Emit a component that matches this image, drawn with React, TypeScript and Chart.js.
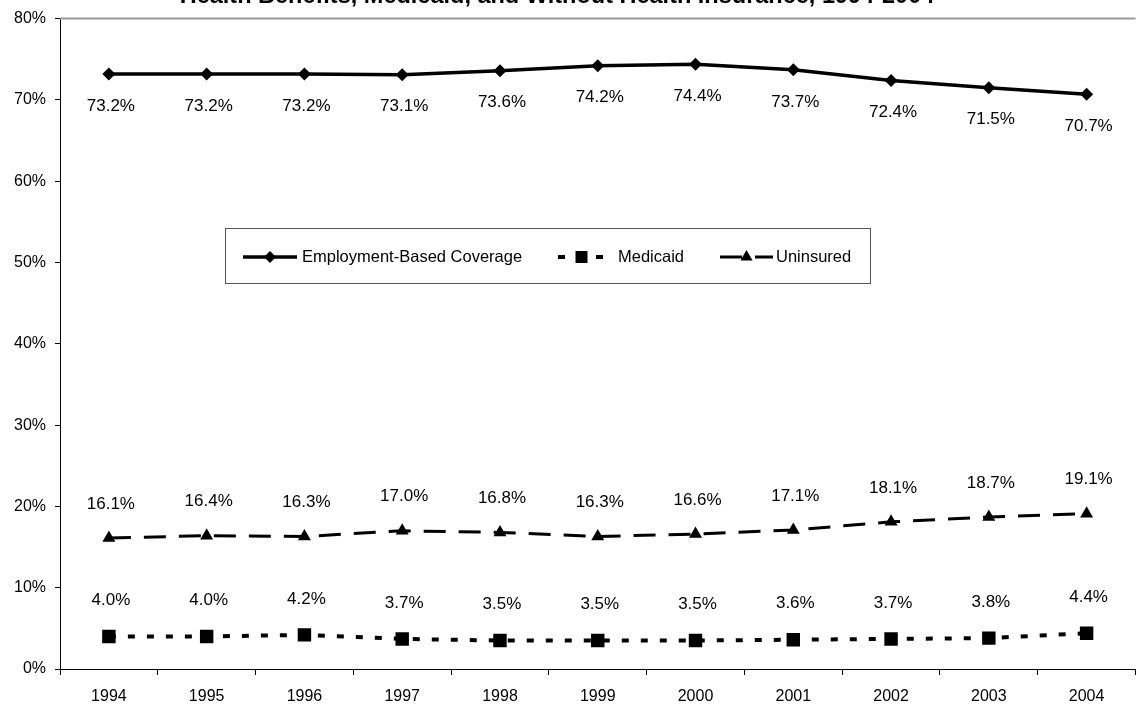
import React, { useEffect, useRef } from "react";
import { Chart, registerables } from "chart.js";

Chart.register(...registerables);

const years = ["1994", "1995", "1996", "1997", "1998", "1999", "2000", "2001", "2002", "2003", "2004"];
const employmentBased = [73.2, 73.2, 73.2, 73.1, 73.6, 74.2, 74.4, 73.7, 72.4, 71.5, 70.7];
const medicaid = [4.0, 4.0, 4.2, 3.7, 3.5, 3.5, 3.5, 3.6, 3.7, 3.8, 4.4];
const uninsured = [16.1, 16.4, 16.3, 17.0, 16.8, 16.3, 16.6, 17.1, 18.1, 18.7, 19.1];
const seriesNames = ["Employment-Based Coverage", "Medicaid", "Uninsured"];
const titleText = "Health Benefits, Medicaid, and Without Health Insurance, 1994-2004";

const FONT = "'Liberation Sans', Arial, sans-serif";
const labelOffsets = [32, -36, -34];

const overlayPlugin = {
  id: "overlay",
  afterDatasetsDraw(chart: any) {
    const ctx = chart.ctx;
    const area = chart.chartArea;
    ctx.save();
    // top plot border
    ctx.strokeStyle = "#999999";
    ctx.lineWidth = 2;
    ctx.beginPath();
    ctx.moveTo(area.left, area.top);
    ctx.lineTo(area.right, area.top);
    ctx.stroke();

    // data labels
    ctx.fillStyle = "#000";
    ctx.font = `17px ${FONT}`;
    ctx.textAlign = "center";
    ctx.textBaseline = "middle";
    chart.data.datasets.forEach((ds: any, di: number) => {
      const meta = chart.getDatasetMeta(di);
      meta.data.forEach((pt: any, i: number) => {
        ctx.fillText(ds.data[i].toFixed(1) + "%", pt.x + 2, pt.y + labelOffsets[di]);
      });
    });

    // title (partly cut at top)
    ctx.font = `bold 23.5px ${FONT}`;
    ctx.textBaseline = "alphabetic";
    ctx.fillText(titleText, 557, 3);

    // legend box
    const bx = 225, by = 228, bw = 645, bh = 55;
    ctx.fillStyle = "#fff";
    ctx.fillRect(bx, by, bw, bh);
    ctx.strokeStyle = "#555";
    ctx.lineWidth = 1;
    ctx.strokeRect(bx + 0.5, by + 0.5, bw, bh);
    const cy = 257;
    const items = [
      { x0: 243, x1: 297, tx: 302, di: 0 },
      { x0: 558, x1: 605, tx: 618, di: 1 },
      { x0: 720, x1: 773, tx: 776, di: 2 },
    ];
    items.forEach((it) => {
      const ds: any = chart.data.datasets[it.di];
      ctx.save();
      ctx.strokeStyle = "#000";
      ctx.lineWidth = ds.borderWidth;
      ctx.setLineDash(ds.borderDash || []);
      ctx.beginPath();
      ctx.moveTo(it.x0, cy);
      ctx.lineTo(it.x1, cy);
      ctx.stroke();
      ctx.restore();
      const mx = (it.x0 + it.x1) / 2;
      ctx.fillStyle = "#000";
      ctx.beginPath();
      if (it.di === 0) {
        const r = 6;
        ctx.moveTo(mx, cy - r);
        ctx.lineTo(mx + r, cy);
        ctx.lineTo(mx, cy + r);
        ctx.lineTo(mx - r, cy);
      } else if (it.di === 1) {
        ctx.rect(mx - 6, cy - 6, 12, 12);
      } else {
        const r = 7;
        ctx.moveTo(mx, cy - r);
        ctx.lineTo(mx + r * 0.866, cy + r * 0.5);
        ctx.lineTo(mx - r * 0.866, cy + r * 0.5);
      }
      ctx.closePath();
      ctx.fill();
      ctx.fillStyle = "#000";
      ctx.font = `16.5px ${FONT}`;
      ctx.textAlign = "left";
      ctx.textBaseline = "middle";
      ctx.fillText(seriesNames[it.di], it.tx, cy);
    });
    ctx.restore();
  },
};

export default function App() {
  const ref = useRef<HTMLCanvasElement | null>(null);
  useEffect(() => {
    if (!ref.current) return;
    const chart = new Chart(ref.current, {
      type: "line",
      data: {
        labels: years,
        datasets: [
          {
            label: seriesNames[0],
            data: employmentBased,
            borderColor: "#000",
            backgroundColor: "#000",
            borderWidth: 3.5,
            pointStyle: "rectRot",
            pointRadius: 6.5,
            pointBorderWidth: 0,
            tension: 0,
          },
          {
            label: seriesNames[1],
            data: medicaid,
            borderColor: "#000",
            backgroundColor: "#000",
            borderWidth: 4,
            borderDash: [7, 12],
            pointStyle: "rect",
            pointRadius: 9.5,
            pointBorderWidth: 0,
            tension: 0,
          },
          {
            label: seriesNames[2],
            data: uninsured,
            borderColor: "#000",
            backgroundColor: "#000",
            borderWidth: 3,
            borderDash: [22, 13],
            pointStyle: "triangle",
            pointRadius: 7.5,
            pointBorderWidth: 0,
            tension: 0,
          },
        ],
      },
      options: {
        animation: false,
        responsive: false,
        layout: { padding: { top: 16, right: 7, left: 0, bottom: 0 } },
        plugins: {
          legend: { display: false },
          title: { display: false },
          tooltip: { enabled: false },
        },
        scales: {
          x: {
            offset: true,
            border: { display: true, color: "#000", width: 1 },
            grid: {
              offset: true,
              drawOnChartArea: false,
              drawTicks: true,
              tickLength: 6,
              color: "#000",
            },
            ticks: {
              color: "#000",
              font: { family: FONT, size: 16 },
              padding: 12,
              maxRotation: 0,
            },
            afterFit: (s: any) => {
              s.height = 38;
            },
          },
          y: {
            min: 0,
            max: 80,
            border: { display: true, color: "#000", width: 1 },
            grid: {
              drawOnChartArea: false,
              drawTicks: true,
              tickLength: 5,
              color: "#000",
            },
            ticks: {
              stepSize: 10,
              color: "#000",
              font: { family: FONT, size: 16 },
              padding: 9,
              callback: (v: any) => v + "%",
            },
            afterFit: (s: any) => {
              s.width = 60;
            },
          },
        },
      },
      plugins: [overlayPlugin],
    });
    return () => chart.destroy();
  }, []);
  return (
    <div
      style={{
        position: "fixed",
        left: 0,
        top: 0,
        width: 1137,
        height: 707,
        overflow: "hidden",
        background: "#fff",
      }}
    >
      <canvas ref={ref} width={1145} height={707} style={{ width: 1145, height: 707, display: "block" }} />
    </div>
  );
}
